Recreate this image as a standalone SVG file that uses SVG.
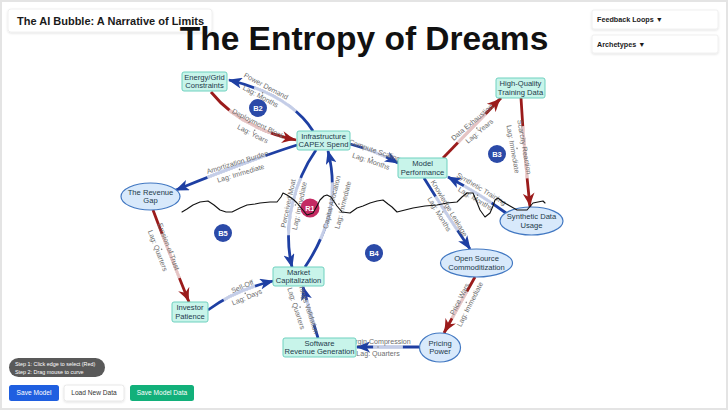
<svg xmlns="http://www.w3.org/2000/svg" width="728" height="410" viewBox="0 0 728 410">
<defs>
<style>
.bg{fill:#ffffff;stroke:#e4e4e4;stroke-width:2}
.panel{fill:#ffffff;stroke:#ececec;stroke-width:0.8}
.eb{fill:none;stroke:#1e3fa3;stroke-width:2.8;marker-end:url(#ab)}
.er{fill:none;stroke:#9b1b1b;stroke-width:2.8;marker-end:url(#ar)}
.fade{fill:none;stroke:#ffffff;stroke-opacity:0.74;stroke-width:3.4;stroke-dasharray:0 26 48 100}
.lbl{font-family:"Liberation Sans",Arial,sans-serif;font-size:7.1px;fill:#6e6e6e;text-anchor:middle}
.dot{fill:#8a8a8a}
.nr{fill:#c8f4ea;stroke:#6fd1bf;stroke-width:1}
.ne{fill:#d8e9fb;stroke:#4278c2;stroke-width:1.2}
.nt{font-family:"Liberation Sans",Arial,sans-serif;font-size:7.6px;fill:#1d3a4a;text-anchor:middle}
.loop{fill:#2b4aa8}
.loopr{fill:#c42a62}
.lt{font-family:"Liberation Sans",Arial,sans-serif;font-size:7.5px;font-weight:bold;fill:#ffffff;text-anchor:middle}
.ui{font-family:"Liberation Sans",Arial,sans-serif;font-weight:bold;fill:#1a1a1a}
.btn{font-family:"Liberation Sans",Arial,sans-serif;font-size:6.6px;text-anchor:middle}
</style>
<marker id="ab" markerUnits="userSpaceOnUse" markerWidth="14" markerHeight="11" refX="13" refY="5.5" orient="auto" viewBox="0 0 14 11">
<path d="M0,0 L14,5.5 L0,11 L3.5,5.5 Z" fill="#1e3fa3"/>
</marker>
<marker id="ar" markerUnits="userSpaceOnUse" markerWidth="15" markerHeight="12" refX="14" refY="6" orient="auto" viewBox="0 0 15 12">
<path d="M0,0 Q7,4 15,6 Q7,8 0,12 L4,6 Z" fill="#9b1b1b"/>
</marker>
<filter id="sh" x="-10%" y="-30%" width="120%" height="170%">
<feDropShadow dx="0" dy="1" stdDeviation="1.2" flood-color="#000000" flood-opacity="0.12"/>
</filter>
</defs>

<rect class="bg" x="1" y="1" width="726" height="408"/>

<g id="header">
<rect class="panel" x="8" y="9" width="204" height="23" rx="3" filter="url(#sh)"/>
<text class="ui" x="17" y="24.5" font-size="11">The AI Bubble: A Narrative of Limits</text>
<text x="364" y="50" font-family="Liberation Sans,Arial,sans-serif" font-size="33.5" font-weight="bold" fill="#111111" text-anchor="middle">The Entropy of Dreams</text>
</g>

<g id="panels">
<rect class="panel" x="592" y="10" width="126" height="19" rx="2" filter="url(#sh)"/>
<text class="ui" x="597" y="21.5" font-size="7.2">Feedback Loops ▼</text>
<rect class="panel" x="592" y="35" width="126" height="18" rx="2" filter="url(#sh)"/>
<text class="ui" x="597" y="47" font-size="7.2">Archetypes ▼</text>
</g>

<g id="connectors">
<path class="eb" d="M313,131 Q290,95 229,80"/>
<path class="fade" pathLength="100" d="M313,131 Q290,95 229,80"/>
<path class="er" d="M211,92 Q240,128 296,140"/>
<path class="fade" pathLength="100" d="M211,92 Q240,128 296,140"/>
<path class="eb" d="M297,145 Q250,160 176,190"/>
<path class="fade" pathLength="100" d="M297,145 Q250,160 176,190"/>
<path class="eb" d="M350,144 Q376,151 398,163"/>
<path class="fade" pathLength="100" d="M350,144 Q376,151 398,163"/>
<path class="er" d="M443,158 Q470,130 501,98"/>
<path class="fade" pathLength="100" d="M443,158 Q470,130 501,98"/>
<path class="er" d="M521,98 Q524,150 530,207"/>
<path class="fade" pathLength="100" d="M521,98 Q524,150 530,207"/>
<path class="eb" d="M506,213 Q480,194 448,177"/>
<path class="fade" pathLength="100" d="M506,213 Q480,194 448,177"/>
<path class="eb" d="M424,178 Q445,212 470,249"/>
<path class="fade" pathLength="100" d="M424,178 Q445,212 470,249"/>
<path class="er" d="M475,277 Q462,300 444,333"/>
<path class="fade" pathLength="100" d="M475,277 Q462,300 444,333"/>
<path class="eb" d="M419,347 L357,347"/>
<path class="fade" pathLength="100" d="M419,347 L357,347"/>
<path class="eb" d="M318,338 Q310,312 303,287"/>
<path class="fade" pathLength="100" d="M318,338 Q310,312 303,287"/>
<path class="eb" d="M208,310 Q235,290 273,281"/>
<path class="fade" pathLength="100" d="M208,310 Q235,290 273,281"/>
<path class="er" d="M153,210 Q168,250 189,302"/>
<path class="fade" pathLength="100" d="M153,210 Q168,250 189,302"/>
<path class="eb" d="M316,150 C295,180 282,225 292,267"/>
<path class="fade" pathLength="100" d="M316,150 C295,180 282,225 292,267"/>
<path class="eb" d="M305,267 C330,230 338,190 328,151"/>
<path class="fade" pathLength="100" d="M305,267 C330,230 338,190 328,151"/>
</g>

<g id="edge-labels">
<g transform="translate(263.5,91) rotate(28)"><text class="lbl" y="-3">Power Demand</text><circle class="dot" cx="0" cy="2" r="0.8"/><text class="lbl" y="8.5">Lag: Months</text></g>
<g transform="translate(255.5,128.5) rotate(27)"><text class="lbl" y="-3">Deployment Block</text><circle class="dot" cx="0" cy="2" r="0.8"/><text class="lbl" y="8.5">Lag: Years</text></g>
<g transform="translate(239,167.5) rotate(-17)"><text class="lbl" y="-3">Amortization Burden</text><circle class="dot" cx="0" cy="2" r="0.8"/><text class="lbl" y="8.5">Lag: Immediate</text></g>
<g transform="translate(373,155.5) rotate(19)"><text class="lbl" y="-3">Compute Scaling</text><circle class="dot" cx="0" cy="2" r="0.8"/><text class="lbl" y="8.5">Lag: Months</text></g>
<g transform="translate(475.5,126.5) rotate(-40)"><text class="lbl" y="-3">Data Exhaustion</text><circle class="dot" cx="0" cy="2" r="0.8"/><text class="lbl" y="8.5">Lag: Years</text></g>
<g transform="translate(519,148) rotate(80)"><text class="lbl" y="-3">Scarcity Reaction</text><circle class="dot" cx="0" cy="2" r="0.8"/><text class="lbl" y="8.5">Lag: Immediate</text></g>
<g transform="translate(478.5,193.5) rotate(31)"><text class="lbl" y="-3">Synthetic Training</text><circle class="dot" cx="0" cy="2" r="0.8"/><text class="lbl" y="8.5">Lag: Months</text></g>
<g transform="translate(444.5,211) rotate(59)"><text class="lbl" y="-3">Knowledge Leakage</text><circle class="dot" cx="0" cy="2" r="0.8"/><text class="lbl" y="8.5">Lag: Months</text></g>
<g transform="translate(464.5,301.5) rotate(-63)"><text class="lbl" y="-3">Price Wars</text><circle class="dot" cx="0" cy="2" r="0.8"/><text class="lbl" y="8.5">Lag: Immediate</text></g>
<g transform="translate(378,347)"><text class="lbl" y="-3">Margin Compression</text><circle class="dot" cx="0" cy="0" r="0.8"/><text class="lbl" y="9">Lag: Quarters</text></g>
<g transform="translate(302,306.5) rotate(72)"><text class="lbl" y="-3">Earnings Validation</text><circle class="dot" cx="0" cy="2" r="0.8"/><text class="lbl" y="8.5">Lag: Quarters</text></g>
<g transform="translate(244.5,291.5) rotate(-23)"><text class="lbl" y="-3">Sell-Off</text><circle class="dot" cx="0" cy="2" r="0.8"/><text class="lbl" y="8.5">Lag: Days</text></g>
<g transform="translate(163.5,248.5) rotate(69)"><text class="lbl" y="-3">Erosion of Trust</text><circle class="dot" cx="0" cy="2" r="0.8"/><text class="lbl" y="8.5">Lag: Quarters</text></g>
<g transform="translate(293.5,204.5) rotate(-78)"><text class="lbl" y="-3">Perceived Moat</text><circle class="dot" cx="0" cy="2" r="0.8"/><text class="lbl" y="8.5">Lag: Immediate</text></g>
<g transform="translate(337,203.5) rotate(-76)"><text class="lbl" y="-3">Capital Allocation</text><circle class="dot" cx="0" cy="2" r="0.8"/><text class="lbl" y="8.5">Lag: Immediate</text></g>
</g>

<g id="loops">
<g id="loop-B2"><circle class="loop" cx="258" cy="108" r="9"/><text class="lt" x="258" y="110.7">B2</text></g>
<g id="loop-B3"><circle class="loop" cx="497" cy="154" r="9"/><text class="lt" x="497" y="156.7">B3</text></g>
<g id="loop-B5"><circle class="loop" cx="223" cy="233" r="9"/><text class="lt" x="223" y="235.7">B5</text></g>
<g id="loop-B4"><circle class="loop" cx="374" cy="253" r="9"/><text class="lt" x="374" y="255.7">B4</text></g>
<g id="loop-R1"><circle class="loopr" cx="310" cy="208" r="9.5"/><text class="lt" x="310" y="210.7">R1</text></g>
</g>

<g id="node-energy"><rect class="nr" x="182" y="72" width="45" height="19" rx="2"/><text class="nt" x="204.5" y="79.5">Energy/Grid</text><text class="nt" x="204.5" y="88">Constraints</text></g>
<g id="node-capex"><rect class="nr" x="297" y="131" width="53" height="19" rx="2"/><text class="nt" x="323.5" y="138.5">Infrastructure</text><text class="nt" x="323.5" y="147">CAPEX Spend</text></g>
<g id="node-hq"><rect class="nr" x="496" y="78" width="49" height="20" rx="2"/><text class="nt" x="520.5" y="86">High-Quality</text><text class="nt" x="520.5" y="94.5">Training Data</text></g>
<g id="node-model"><rect class="nr" x="398" y="158" width="49" height="20" rx="2"/><text class="nt" x="422.5" y="166">Model</text><text class="nt" x="422.5" y="174.5">Performance</text></g>
<g id="node-mcap"><rect class="nr" x="273" y="267" width="51" height="19" rx="2"/><text class="nt" x="298.5" y="274.5">Market</text><text class="nt" x="298.5" y="283">Capitalization</text></g>
<g id="node-investor"><rect class="nr" x="172" y="302" width="36" height="20" rx="2"/><text class="nt" x="190" y="310">Investor</text><text class="nt" x="190" y="318.5">Patience</text></g>
<g id="node-software"><rect class="nr" x="283" y="338" width="73" height="19" rx="2"/><text class="nt" x="319.5" y="345.5">Software</text><text class="nt" x="319.5" y="354">Revenue Generation</text></g>
<g id="node-revgap"><ellipse class="ne" cx="150.5" cy="196.5" rx="29.5" ry="13.5"/><text class="nt" x="150.5" y="194.5">The Revenue</text><text class="nt" x="150.5" y="203">Gap</text></g>
<g id="node-synthetic"><ellipse class="ne" cx="531.5" cy="221" rx="31.5" ry="14"/><text class="nt" x="531.5" y="219">Synthetic Data</text><text class="nt" x="531.5" y="227.5">Usage</text></g>
<g id="node-opensource"><ellipse class="ne" cx="476.5" cy="263" rx="36" ry="14"/><text class="nt" x="476.5" y="261">Open Source</text><text class="nt" x="476.5" y="269.5">Commoditization</text></g>
<g id="node-pricing"><ellipse class="ne" cx="440" cy="347.5" rx="20.5" ry="14.5"/><text class="nt" x="440" y="345.5">Pricing</text><text class="nt" x="440" y="354">Power</text></g>

<g id="scribble">
<polyline fill="none" stroke="#111111" stroke-width="1.1" stroke-linejoin="round" stroke-linecap="round" points="182,212 187,209 193,205 200,202 208,201 214,205 220,210 226,212 232,212 240,208 247,205 255,204 260,203 270,202 277,202 281,197 283,193 287,195 290,197 294,200 297,203 302,209 307,215 313,213 317,206 320,200 324,196 327,195 331,197 333,200 337,206 342,212 350,213 357,208 363,206 370,203 377,201 383,200 388,204 392,207 397,212 405,210 413,208 425,206 437,205 447,203 457,202 462,197 467,193 473,193 476,200 480,210 485,217 490,213 493,206 495,200 498,198 503,202 510,206 517,210 527,210 533,203 538,202 543,201 545,203"/>
</g>

<g id="controls">
<rect x="9" y="358" width="96" height="19" rx="9.5" fill="#595959"/>
<text x="15" y="365.5" font-family="Liberation Sans,Arial,sans-serif" font-size="5.4" fill="#ffffff">Step 1: Click edge to select (Red)</text>
<text x="15" y="373.5" font-family="Liberation Sans,Arial,sans-serif" font-size="5.4" fill="#ffffff">Step 2: Drag mouse to curve</text>
<rect x="9" y="385" width="50" height="16" rx="2.5" fill="#1f5fe0"/>
<text class="btn" x="34" y="395.3" fill="#ffffff">Save Model</text>
<rect x="64" y="385" width="60" height="16" rx="2.5" fill="#ffffff" stroke="#e2e2e2" stroke-width="0.8" filter="url(#sh)"/>
<text class="btn" x="94" y="395.3" fill="#333333">Load New Data</text>
<rect x="130" y="385" width="64" height="16" rx="2.5" fill="#12b07a"/>
<text class="btn" x="162" y="395.3" fill="#ffffff">Save Model Data</text>
</g>
</svg>
